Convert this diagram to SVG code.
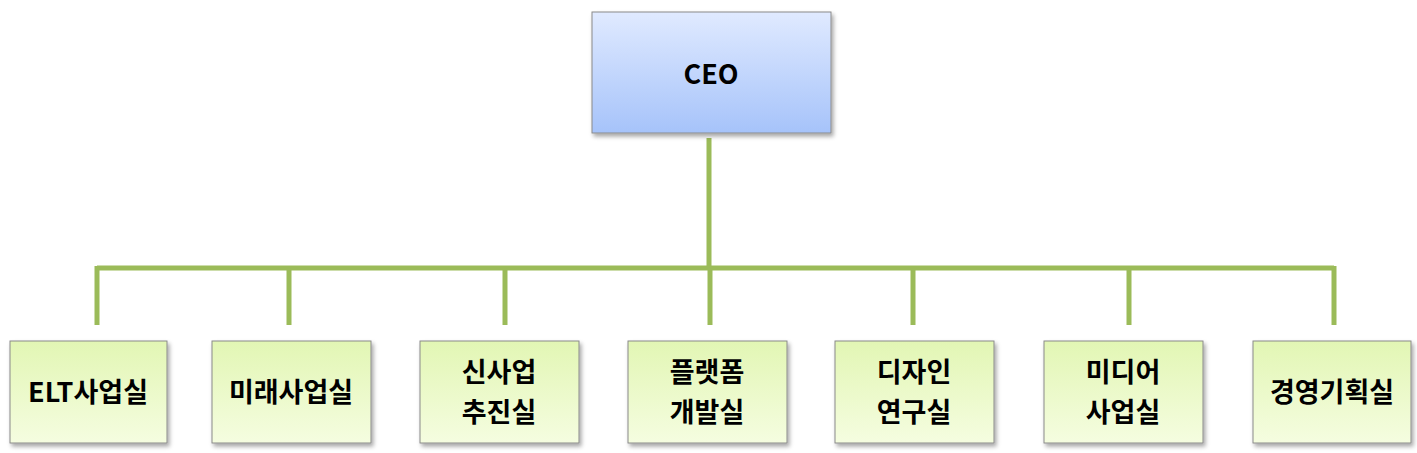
<svg xmlns="http://www.w3.org/2000/svg" width="1417" height="453" viewBox="0 0 1417 453">
<defs>
<linearGradient id="gb" x1="0" y1="0" x2="0" y2="1"><stop offset="0" stop-color="#e0eaff"/><stop offset="1" stop-color="#a6c3fa"/></linearGradient>
<linearGradient id="gg" x1="0" y1="0" x2="0" y2="1"><stop offset="0" stop-color="#e2f6b4"/><stop offset="1" stop-color="#f5fde0"/></linearGradient>
<filter id="sh" x="-10%" y="-10%" width="130%" height="130%"><feDropShadow dx="2" dy="3" stdDeviation="2" flood-color="#000" flood-opacity="0.35"/></filter>
</defs>
<style>
.box{stroke:#8a8a8a;stroke-width:1;filter:url(#sh)}
.t{font-family:"Noto Sans CJK KR","Liberation Sans",sans-serif;font-weight:bold;font-size:27px;fill:#000;text-anchor:middle}
.c{stroke:#9bbb59;stroke-width:5;fill:none}
</style>
<rect width="1417" height="453" fill="#fff"/>
<g id="connectors">
<path class="c" d="M709 138V268M97 268H1334M97 266V325M289 266V325M505 266V325M710 266V325M913 266V325M1129 266V325M1334 266V325"/>
</g>
<g id="ceo"><rect class="box" x="592" y="12" width="239" height="121" fill="url(#gb)"/><text class="t" x="711" y="84">CEO</text></g>
<g id="n1"><rect class="box" x="10" y="341" width="157" height="102" fill="url(#gg)"/><text class="t" x="88" y="402">ELT사업실</text></g>
<g id="n2"><rect class="box" x="212" y="341" width="159" height="102" fill="url(#gg)"/><text class="t" x="291" y="402">미래사업실</text></g>
<g id="n3"><rect class="box" x="420" y="341" width="159" height="102" fill="url(#gg)"/><text class="t" x="499" y="382">신사업</text><text class="t" x="499" y="422">추진실</text></g>
<g id="n4"><rect class="box" x="628" y="341" width="159" height="102" fill="url(#gg)"/><text class="t" x="707" y="382">플랫폼</text><text class="t" x="707" y="422">개발실</text></g>
<g id="n5"><rect class="box" x="835" y="341" width="159" height="102" fill="url(#gg)"/><text class="t" x="914" y="382">디자인</text><text class="t" x="914" y="422">연구실</text></g>
<g id="n6"><rect class="box" x="1044" y="341" width="159" height="102" fill="url(#gg)"/><text class="t" x="1123" y="382">미디어</text><text class="t" x="1123" y="422">사업실</text></g>
<g id="n7"><rect class="box" x="1253" y="341" width="158" height="102" fill="url(#gg)"/><text class="t" x="1332" y="402">경영기획실</text></g>
</svg>
